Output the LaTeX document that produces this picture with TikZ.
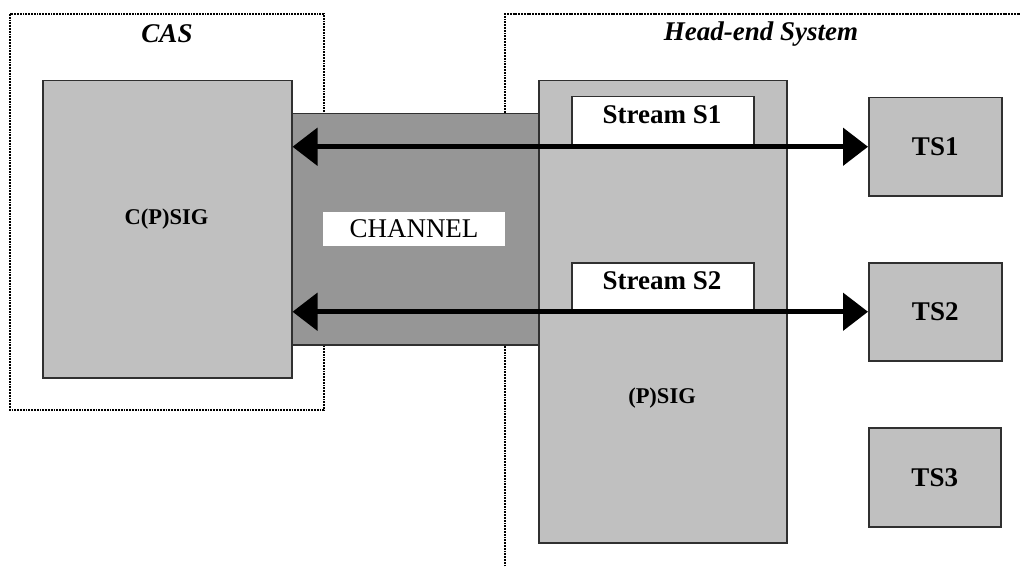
\documentclass[tikz,border=0pt]{standalone}
\usepackage{fontspec}
\setmainfont{Liberation Serif}
\usetikzlibrary{arrows.meta}
\definecolor{lightg}{HTML}{C0C0C0}
\definecolor{darkg}{HTML}{969696}
\definecolor{edge}{HTML}{303030}
\tikzset{
  frame/.style={draw=black, line width=1.9pt, dash pattern=on 1.9pt off 0.9pt},
  box/.style={draw=edge, line width=1.5pt, inner sep=0pt, anchor=north west},
  big/.style={font=\fontsize{27}{30}\selectfont},
  bigb/.style={font=\bfseries\fontsize{27}{30}\selectfont},
  sig/.style={font=\bfseries\fontsize{22.5}{26}\selectfont},
  title/.style={font=\bfseries\itshape\fontsize{27}{30}\selectfont},
  biarrow/.style={line width=5pt, {Triangle[length=25pt,width=37pt]}-{Triangle[length=25pt,width=37pt]}}
}
\begin{document}
\begin{tikzpicture}[x=1pt,y=-1pt]
\useasboundingbox (0,0) rectangle (1020,567);
% dotted frames
\draw[frame] (10,14) rectangle (324,410);
\draw[frame] (505,600) -- (505,14) -- (1060,14);
\node[title] (castitle) at (167,34) {CAS};
\node[title] (hetitle) at (761,34) {Head-end System};
% C(P)SIG
\node[box, fill=lightg, minimum width=249pt, minimum height=297pt] (cpsig) at (42,80) {};
\node[sig] (cpsiglbl) at (166.5,219) {C(P)SIG};
% channel
\node[box, fill=darkg, minimum width=247pt, minimum height=231pt] (chan) at (291,113) {};
\node[fill=white, inner sep=0pt, minimum width=182pt, minimum height=34pt, big] (chanlbl) at (414,229) {CHANNEL};
% (P)SIG
\node[box, fill=lightg, minimum width=248pt, minimum height=462pt] (psig) at (538,80) {};
\node[sig] (psiglbl) at (662,398) {(P)SIG};
% streams
\node[box, fill=white, minimum width=182pt, minimum height=50pt] (s1) at (571,96) {};
\node[bigb] (s1lbl) at (662,115) {Stream S1};
\node[box, fill=white, minimum width=182pt, minimum height=49pt] (s2) at (571,262) {};
\node[bigb] (s2lbl) at (662,281) {Stream S2};
% TS boxes
\node[box, fill=lightg, minimum width=133pt, minimum height=98pt] (ts1) at (868,97) {};
\node[bigb] (ts1lbl) at (ts1.center) {TS1};
\node[box, fill=lightg, minimum width=133pt, minimum height=98pt] (ts2) at (868,262) {};
\node[bigb] (ts2lbl) at (ts2.center) {TS2};
\node[box, fill=lightg, minimum width=132pt, minimum height=99pt] (ts3) at (868,427) {};
\node[bigb] (ts3lbl) at (ts3.center) {TS3};
% arrows
\draw[biarrow] (cpsig.east |- ts1.west) -- (ts1.west);
\draw[biarrow] (cpsig.east |- ts2.west) -- (ts2.west);
\end{tikzpicture}
\end{document}
